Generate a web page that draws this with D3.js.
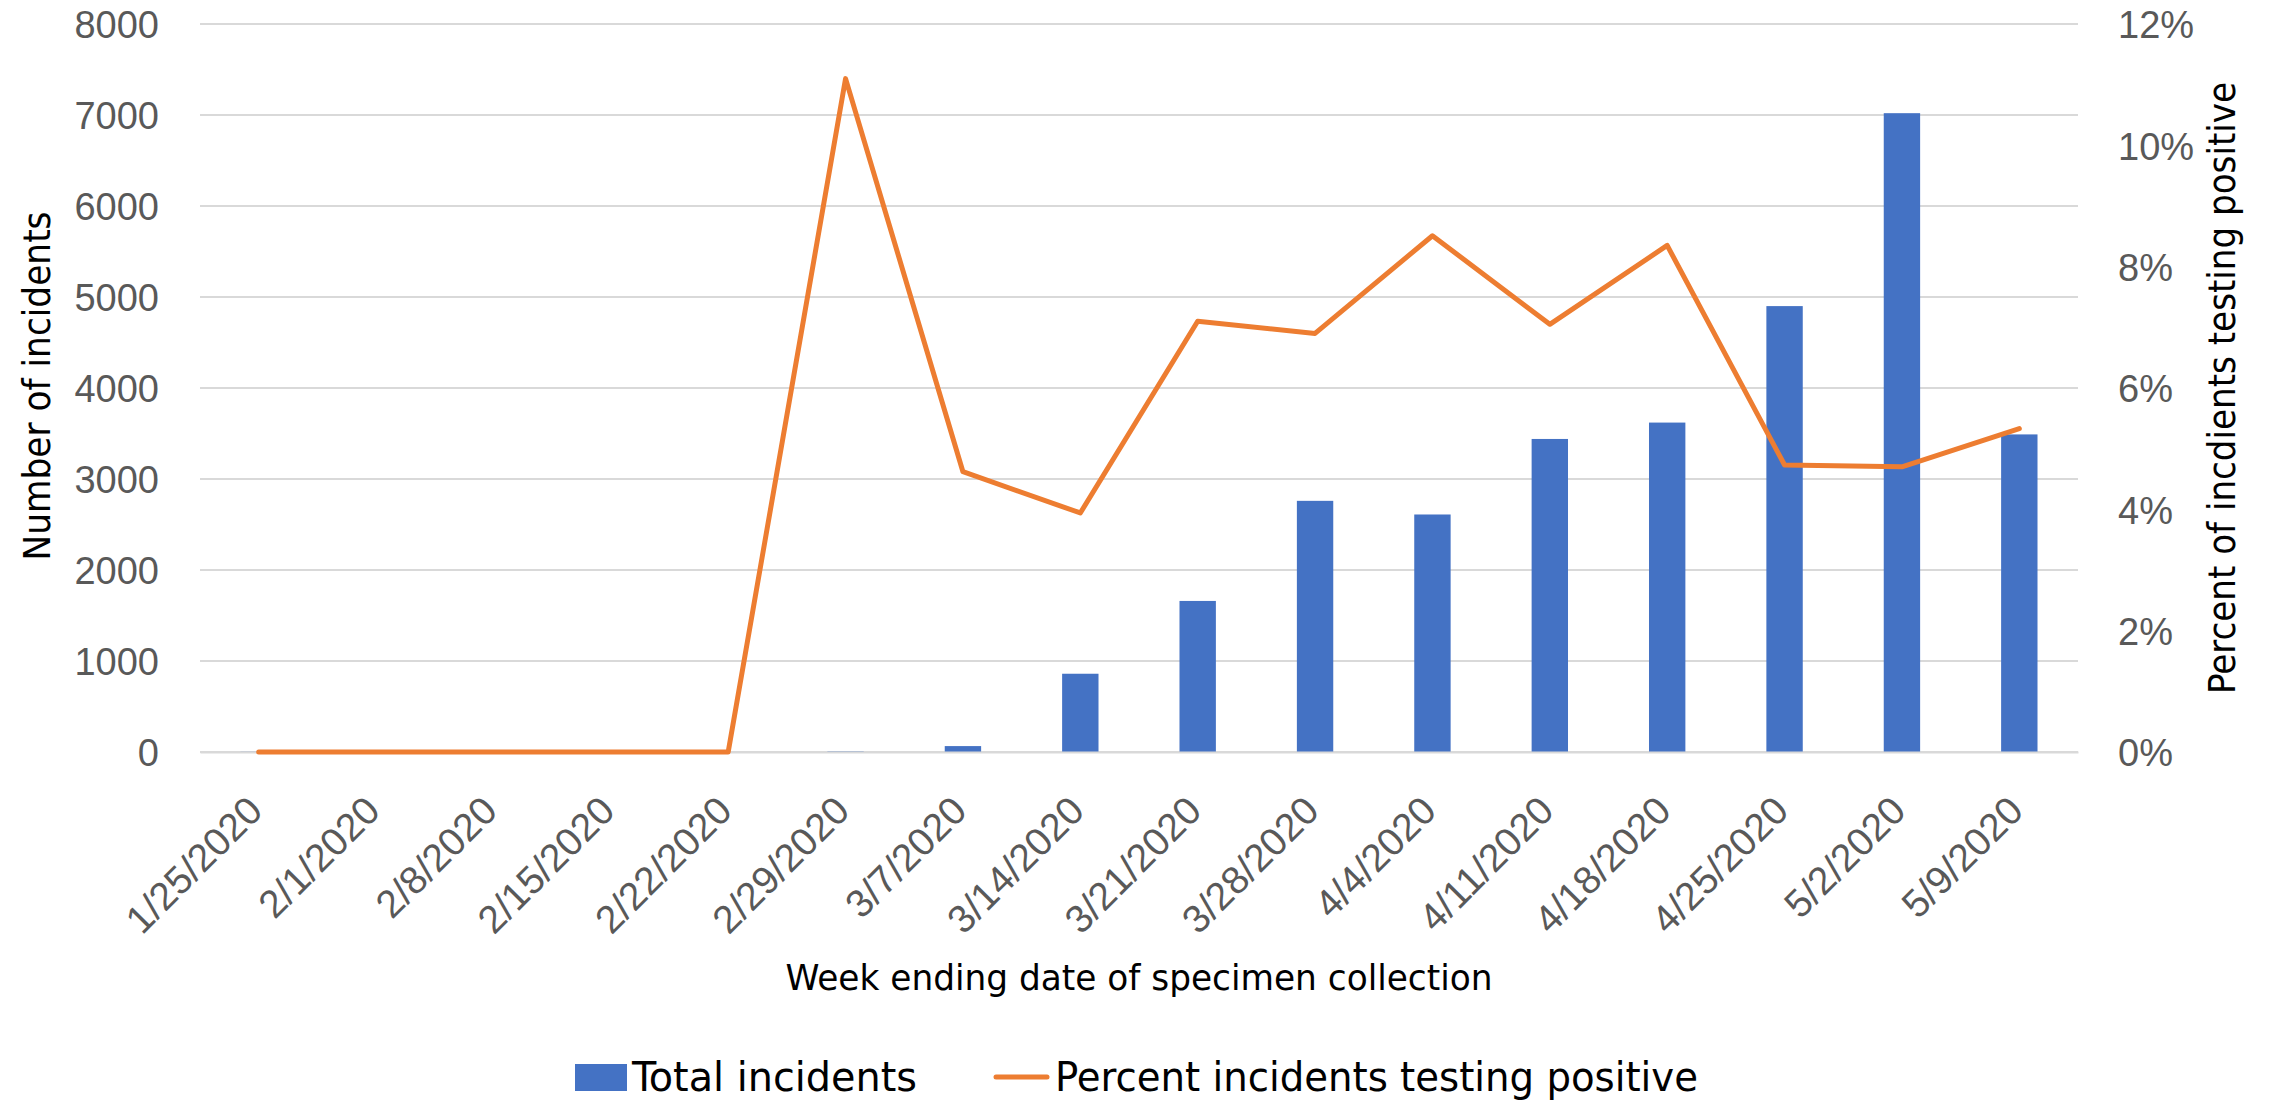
<!DOCTYPE html>
<html>
<head>
<meta charset="utf-8">
<script src="https://cdn.jsdelivr.net/npm/d3@7/dist/d3.min.js"></script>
<style>
  html, body { margin: 0; padding: 0; background: #ffffff; }
  svg { display: block; }
</style>
</head>
<body>
<svg id="chart" width="2280" height="1102"></svg>
<script>
// ---- Data ----
const categories = ["1/25/2020","2/1/2020","2/8/2020","2/15/2020","2/22/2020","2/29/2020","3/7/2020","3/14/2020","3/21/2020","3/28/2020","4/4/2020","4/11/2020","4/18/2020","4/25/2020","5/2/2020","5/9/2020"];
const totalIncidents = [2, 0, 0, 0, 0, 5, 65, 860, 1660, 2760, 2610, 3440, 3620, 4900, 7020, 3490];
const percentPositive = [0, 0, 0, 0, 0, 11.1, 4.62, 3.94, 7.10, 6.90, 8.51, 7.05, 8.35, 4.73, 4.70, 5.33];
const leftTicks = [0, 1000, 2000, 3000, 4000, 5000, 6000, 7000, 8000];
const rightTicks = [0, 2, 4, 6, 8, 10, 12];
const seriesNames = ["Total incidents", "Percent incidents testing positive"];
const leftTitle = "Number of incidents";
const rightTitle = "Percent of incdients testing positive";
const xTitle = "Week ending date of specimen collection";

// ---- Layout ----
const svg = d3.select("#chart");
const plot = { left: 200, right: 2078, top: 24, bottom: 752 };
const tickFont = "'Liberation Sans', Arial, sans-serif";
const titleFont = "'Liberation Sans Narrow', 'DejaVu Sans Condensed', 'Liberation Sans', sans-serif";
const tickColor = "#595959";
const barColor = "#4472C4";
const lineColor = "#ED7D31";
const gridColor = "#D9D9D9";

const x = d3.scaleBand().domain(categories).range([plot.left, plot.right]).padding(0);
const yL = d3.scaleLinear().domain([0, 8000]).range([plot.bottom, plot.top]);
const yR = d3.scaleLinear().domain([0, 12]).range([plot.bottom, plot.top]);
const barW = x.bandwidth() * 0.31;

// gridlines
svg.append("g").selectAll("line").data(leftTicks).join("line")
  .attr("x1", plot.left).attr("x2", plot.right)
  .attr("y1", d => yL(d)).attr("y2", d => yL(d))
  .attr("stroke", gridColor).attr("stroke-width", 2);

// left axis
const leftAxis = svg.append("g").attr("transform", `translate(${plot.left},0)`)
  .call(d3.axisLeft(yL).tickValues(leftTicks).tickSize(0).tickPadding(41).tickFormat(d3.format("d")));
leftAxis.select(".domain").remove();
leftAxis.selectAll("text").attr("font-family", tickFont).attr("font-size", 38).attr("fill", tickColor).attr("dy", "0.36em");

// right axis
const rightAxis = svg.append("g").attr("transform", `translate(${plot.right},0)`)
  .call(d3.axisRight(yR).tickValues(rightTicks).tickSize(0).tickPadding(40).tickFormat(d => d + "%"));
rightAxis.select(".domain").remove();
rightAxis.selectAll("text").attr("font-family", tickFont).attr("font-size", 38).attr("fill", tickColor).attr("dy", "0.36em");

// bars
svg.append("g").selectAll("rect").data(categories).join("rect")
  .attr("x", (c) => x(c) + x.bandwidth() / 2 - barW / 2)
  .attr("width", barW)
  .attr("y", (c, i) => yL(totalIncidents[i]))
  .attr("height", (c, i) => plot.bottom - yL(totalIncidents[i]))
  .attr("fill", barColor);

// bottom axis
const bottomAxis = svg.append("g").attr("transform", `translate(0,${plot.bottom})`)
  .call(d3.axisBottom(x).tickSize(0).tickPadding(0));
bottomAxis.select(".domain").attr("stroke", gridColor).attr("stroke-width", 2);
bottomAxis.selectAll(".tick text")
  .attr("font-family", tickFont).attr("font-size", 39).attr("fill", tickColor)
  .attr("text-anchor", "end").attr("dy", null).attr("y", null)
  .attr("transform", "translate(6,61) rotate(-45)");

// line
const line = d3.line()
  .x((d, i) => x(categories[i]) + x.bandwidth() / 2)
  .y(d => yR(d));
svg.append("path").datum(percentPositive)
  .attr("d", line)
  .attr("fill", "none").attr("stroke", lineColor).attr("stroke-width", 5)
  .attr("stroke-linejoin", "round").attr("stroke-linecap", "round");

// titles
svg.append("text").text(leftTitle)
  .attr("transform", "translate(50,386) rotate(-90)")
  .attr("text-anchor", "middle").attr("font-family", titleFont).attr("font-size", 37)
  .attr("textLength", 349).attr("lengthAdjust", "spacingAndGlyphs").attr("fill", "#000");

svg.append("text").text(rightTitle)
  .attr("transform", "translate(2235,388) rotate(-90)")
  .attr("text-anchor", "middle").attr("font-family", titleFont).attr("font-size", 37)
  .attr("textLength", 612).attr("lengthAdjust", "spacingAndGlyphs").attr("fill", "#000");

svg.append("text").text(xTitle)
  .attr("x", (plot.left + plot.right) / 2).attr("y", 990)
  .attr("text-anchor", "middle").attr("font-family", titleFont).attr("font-size", 36)
  .attr("textLength", 707).attr("lengthAdjust", "spacingAndGlyphs").attr("fill", "#000");

// legend
const legend = svg.append("g");
legend.append("rect").attr("x", 575).attr("y", 1064).attr("width", 52).attr("height", 27).attr("fill", barColor);
legend.append("text").text(seriesNames[0]).attr("x", 632).attr("y", 1091)
  .attr("font-family", titleFont).attr("font-size", 41)
  .attr("textLength", 285).attr("lengthAdjust", "spacingAndGlyphs").attr("fill", "#000");
legend.append("line").attr("x1", 996).attr("x2", 1047).attr("y1", 1077).attr("y2", 1077)
  .attr("stroke", lineColor).attr("stroke-width", 5).attr("stroke-linecap", "round");
legend.append("text").text(seriesNames[1]).attr("x", 1055).attr("y", 1091)
  .attr("font-family", titleFont).attr("font-size", 41)
  .attr("textLength", 643).attr("lengthAdjust", "spacingAndGlyphs").attr("fill", "#000");
</script>
</body>
</html>
